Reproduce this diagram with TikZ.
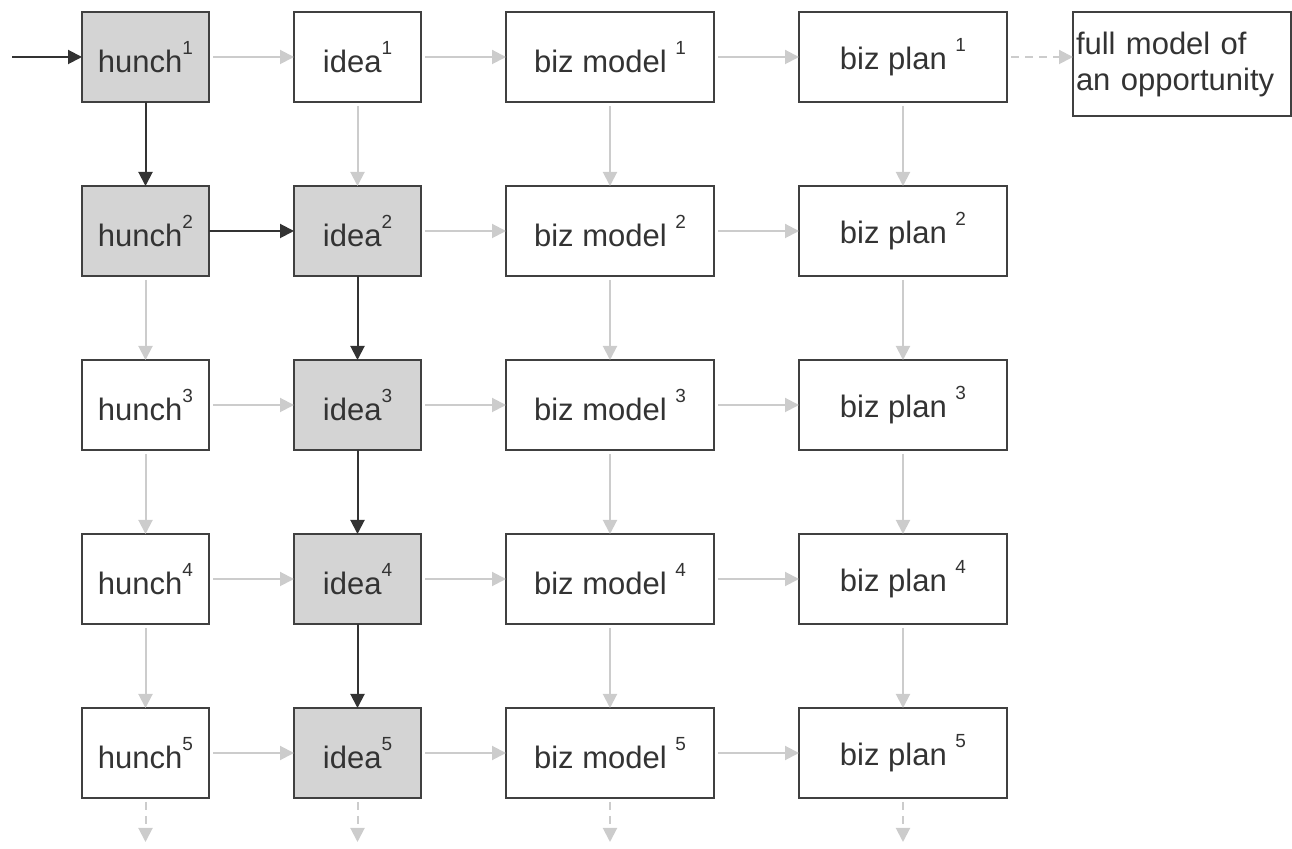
\documentclass[tikz,border=0pt]{standalone}
\usepackage{fontspec}
\setmainfont{Liberation Sans}
\usetikzlibrary{positioning, arrows.meta}

\newcommand{\supnum}[1]{\raisebox{0.58em}{\fontsize{9.5}{9.5}\selectfont#1}}

\begin{document}
\begin{tikzpicture}[
  x=0.5pt, y=-0.5pt,
  node distance = 42pt and 42.5pt,
  every node/.style = {draw=black!75, line width=1pt, minimum height=45pt, inner sep=0pt,
    outer sep=0pt, text=black!80, font=\fontsize{15.5}{18}\selectfont},
  box/.style = {minimum width=63.5pt},
  wide/.style = {minimum width=104pt},
  hit/.style = {fill=black!17},
  arr/.style = {-{Triangle[length=7pt,width=7pt]}, line width=1pt, draw=black!80},
  faint/.style = {-{Triangle[length=7pt,width=7pt]}, line width=1pt, draw=black!20, shorten <=2pt},
  faintdash/.style = {faint, dash pattern=on 4pt off 3pt}
]
\useasboundingbox (0,0) rectangle (1292,849);

% Row 1
\node (h1) [box, hit] at (145.5,57) {hunch\supnum{1}};
\node (i1) [box, right=of h1]  {idea\supnum{1}};
\node (m1) [wide, right=of i1] {biz model \supnum{1}};
\node (p1) [wide, right=of m1] {biz plan \supnum{1}};
\node (full) [right=33pt of p1.north east, anchor=north west, minimum width=109pt,
  minimum height=52pt, text width=106pt, align=left, inner xsep=1.5pt]
  {full model of\\an opportunity};

% Row 2
\node (h2) [box, hit, below=of h1] {hunch\supnum{2}};
\node (i2) [box, hit, right=of h2] {idea\supnum{2}};
\node (m2) [wide, right=of i2]     {biz model \supnum{2}};
\node (p2) [wide, right=of m2]     {biz plan \supnum{2}};

% Row 3
\node (h3) [box, below=of h2]      {hunch\supnum{3}};
\node (i3) [box, hit, right=of h3] {idea\supnum{3}};
\node (m3) [wide, right=of i3]     {biz model \supnum{3}};
\node (p3) [wide, right=of m3]     {biz plan \supnum{3}};

% Row 4
\node (h4) [box, below=of h3]      {hunch\supnum{4}};
\node (i4) [box, hit, right=of h4] {idea\supnum{4}};
\node (m4) [wide, right=of i4]     {biz model \supnum{4}};
\node (p4) [wide, right=of m4]     {biz plan \supnum{4}};

% Row 5
\node (h5) [box, below=of h4]      {hunch\supnum{5}};
\node (i5) [box, hit, right=of h5] {idea\supnum{5}};
\node (m5) [wide, right=of i5]     {biz model \supnum{5}};
\node (p5) [wide, right=of m5]     {biz plan \supnum{5}};

% Loose ends
\coordinate (in) at (12,57);
\coordinate [below=22pt of h5] (eh);
\coordinate [below=22pt of i5] (ei);
\coordinate [below=22pt of m5] (em);
\coordinate [below=22pt of p5] (ep);

% Path taken
\draw[arr] (in) -- (h1);
\draw[arr] (h1) -- (h2);
\draw[arr] (h2) -- (i2);
\draw[arr] (i2) -- (i3);
\draw[arr] (i3) -- (i4);
\draw[arr] (i4) -- (i5);

% Other routes
\draw[faint] (h1) -- (i1);
\draw[faint] (i1) -- (m1);
\draw[faint] (m1) -- (p1);
\draw[faintdash] (p1.east) -- (p1.east -| full.west);
\draw[faint] (i2) -- (m2);
\draw[faint] (m2) -- (p2);
\draw[faint] (h3) -- (i3);
\draw[faint] (i3) -- (m3);
\draw[faint] (m3) -- (p3);
\draw[faint] (h4) -- (i4);
\draw[faint] (i4) -- (m4);
\draw[faint] (m4) -- (p4);
\draw[faint] (h5) -- (i5);
\draw[faint] (i5) -- (m5);
\draw[faint] (m5) -- (p5);

\draw[faint] (i1) -- (i2);
\draw[faint] (h2) -- (h3);
\draw[faint] (h3) -- (h4);
\draw[faint] (h4) -- (h5);
\draw[faint] (m1) -- (m2);
\draw[faint] (m2) -- (m3);
\draw[faint] (m3) -- (m4);
\draw[faint] (m4) -- (m5);
\draw[faint] (p1) -- (p2);
\draw[faint] (p2) -- (p3);
\draw[faint] (p3) -- (p4);
\draw[faint] (p4) -- (p5);

\draw[faintdash] (h5) -- (eh);
\draw[faintdash] (i5) -- (ei);
\draw[faintdash] (m5) -- (em);
\draw[faintdash] (p5) -- (ep);

\end{tikzpicture}
\end{document}
